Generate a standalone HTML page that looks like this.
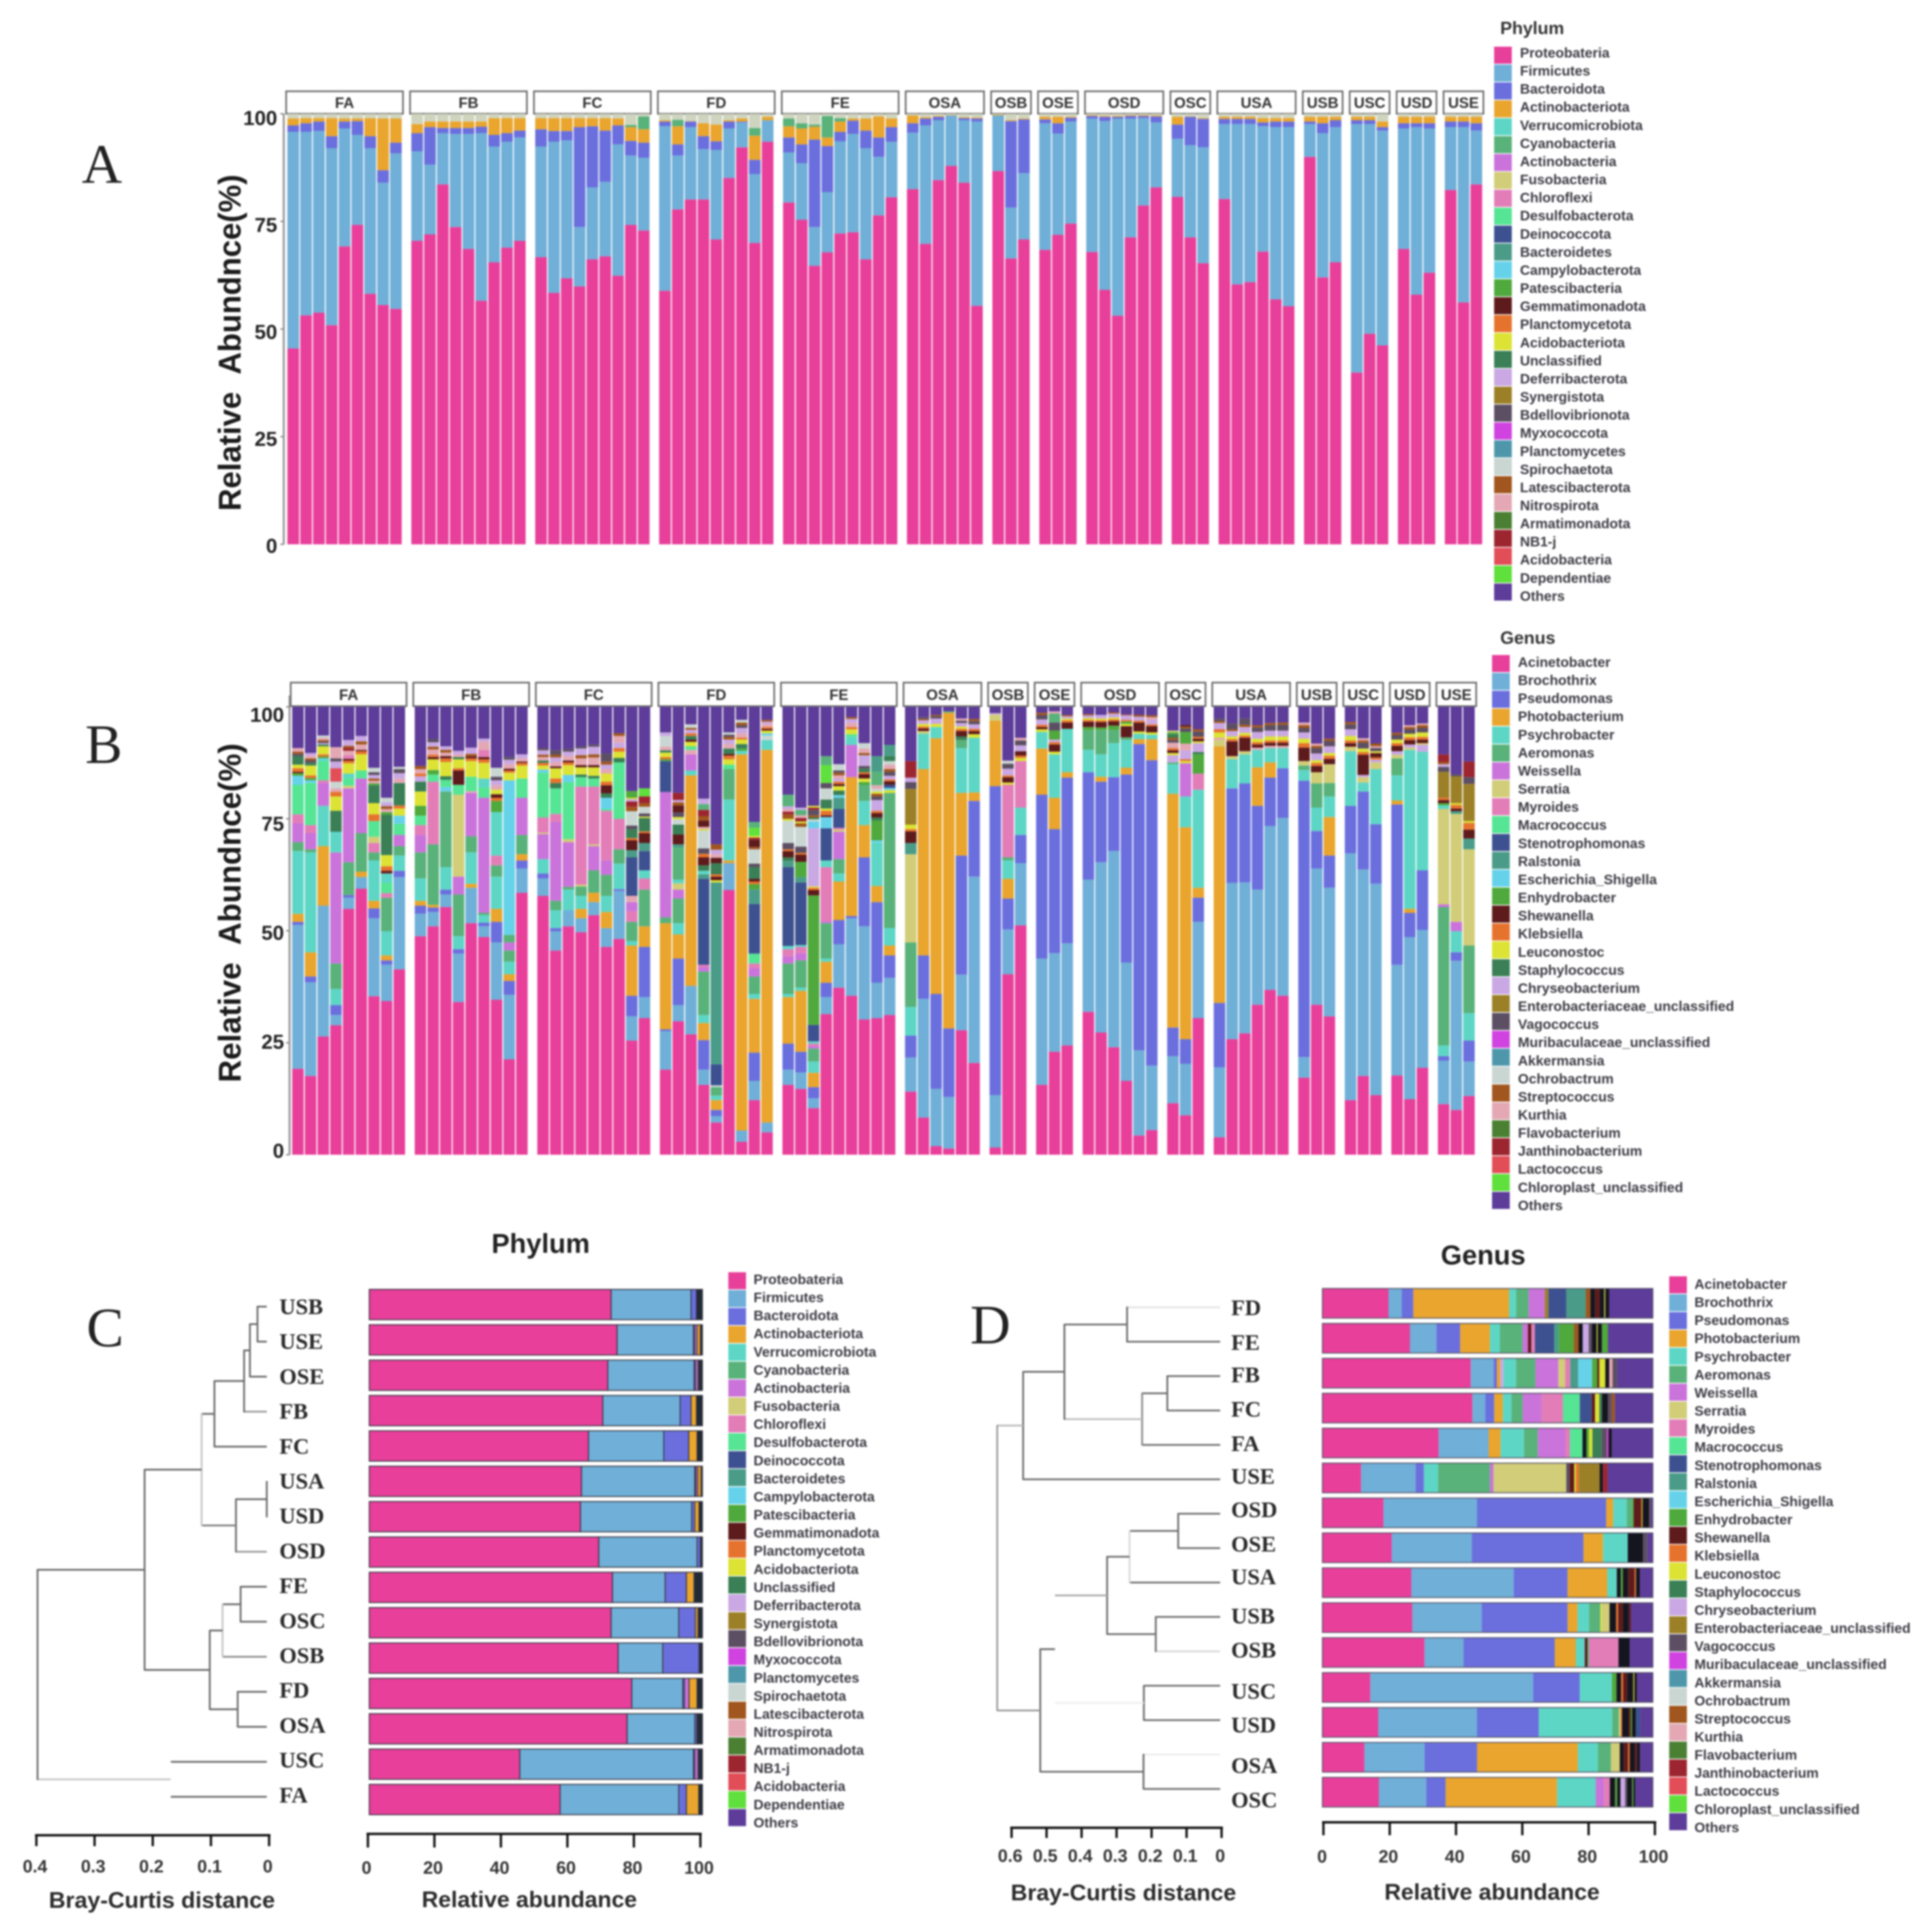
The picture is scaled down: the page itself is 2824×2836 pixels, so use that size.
<!DOCTYPE html>
<html lang="en">
<head>
<meta charset="utf-8">
<title>Microbial community composition: phylum and genus</title>
<style>
html,body{margin:0;padding:0;background:#fff;}
#figure{display:block;width:2824px;height:2836px;filter:blur(1.2px);}
text{font-family:"Liberation Sans",sans-serif;}
</style>
</head>
<body>
<svg id="figure" xmlns="http://www.w3.org/2000/svg" width="2824" height="2836" viewBox="0 0 2824 2836">
<rect x="0" y="0" width="2824" height="2836" fill="#fff"/>
<text x="120" y="268" font-size="82" style="font-family:'Liberation Serif',serif" fill="#222">A</text>
<text x="125" y="1120" font-size="82" style="font-family:'Liberation Serif',serif" fill="#222">B</text>
<text x="127" y="1976" font-size="82" style="font-family:'Liberation Serif',serif" fill="#222">C</text>
<text x="1424" y="1972" font-size="82" style="font-family:'Liberation Serif',serif" fill="#222">D</text>
</svg>
<script>
// ---------- shared categories ----------
const phylumNames = ['Proteobateria','Firmicutes','Bacteroidota','Actinobacteriota','Verrucomicrobiota','Cyanobacteria','Actinobacteria','Fusobacteria','Chloroflexi','Desulfobacterota','Deinococcota','Bacteroidetes','Campylobacterota','Patescibacteria','Gemmatimonadota','Planctomycetota','Acidobacteriota','Unclassified','Deferribacterota','Synergistota','Bdellovibrionota','Myxococcota','Planctomycetes','Spirochaetota','Latescibacterota','Nitrospirota','Armatimonadota','NB1-j','Acidobacteria','Dependentiae','Others'];
const genusNames = ['Acinetobacter','Brochothrix','Pseudomonas','Photobacterium','Psychrobacter','Aeromonas','Weissella','Serratia','Myroides','Macrococcus','Stenotrophomonas','Ralstonia','Escherichia_Shigella','Enhydrobacter','Shewanella','Klebsiella','Leuconostoc','Staphylococcus','Chryseobacterium','Enterobacteriaceae_unclassified','Vagococcus','Muribaculaceae_unclassified','Akkermansia','Ochrobactrum','Streptococcus','Kurthia','Flavobacterium','Janthinobacterium','Lactococcus','Chloroplast_unclassified','Others'];
const palette = ['#E83F9A','#6FAFD8','#6A6FDD','#E9A52D','#5DD6C6','#59B27A','#CA73DA','#D1CD78','#E27DB8','#55E594','#3D5190','#4A9C88','#66D2EA','#4FA93C','#5E1B1B','#E6732D','#DCE334','#3A7F55','#C9A8E3','#9C8028','#5C4F63','#D043E0','#4E97AB','#C9D6D2','#A0561E','#E3A8B3','#4B8033','#9C2530','#E24E58','#5FE03C','#5D3C9A','#15151F'];
const groups = ['FA','FB','FC','FD','FE','OSA','OSB','OSE','OSD','OSC','USA','USB','USC','USD','USE'];
const groupBarCounts = [9,9,9,9,9,6,3,3,6,3,6,3,3,3,3];
const percentTicks = [0,25,50,75,100];

// ---------- panel A: per-sample phylum abundance (%) ----------
const aProteobateria = [45.5,53.2,53.8,50.9,69.2,74.2,58.2,55.6,54.7,70.5,72,83.6,73.7,68.6,56.6,65.5,68.9,70.5,66.7,58.4,61.8,59.9,66.2,66.9,62.4,74.2,72.9,58.9,77.8,80.1,80.1,70.8,85.1,92.2,70,93.5,79.4,75.4,64.7,67.8,72.2,72.5,66.2,76.4,80.6,82.5,69.8,84.6,87.9,84,55.4,86.7,66.4,70.8,68.4,71.9,74.5,67.9,59.1,53.1,71.3,78.7,82.9,80.7,71.3,65.3,80.2,60.4,60.9,68,56.9,55.3,90,62,65.5,39.9,48.9,46.2,68.6,58,63.1,82.3,56.2,83.6];
const aFirmicutes = [50.3,42.6,42.2,41.1,27.4,20.9,33.8,28.4,36.1,20.8,16.2,11.9,21.6,26.7,38.9,26.9,24.6,24,25.7,35.1,32,13.8,16.7,17.3,30.5,16.1,16.9,38.2,12.5,16.8,11.7,20.8,11.5,5.8,16,5,11.6,13.1,9,14,21.4,22.8,25.8,13.6,12.9,13.1,27.5,13.9,11.7,14.5,42.8,12.9,11.8,15.4,29.4,23.5,23.7,31,39.2,45.8,27.6,20.3,15.1,13.5,21.4,26.9,17.4,37.2,36.7,29.1,40,41.6,7.6,33.5,31.4,57.7,48.7,49.9,28,38.9,33.5,14.6,40.7,12.5];
const aBacteroidota = [1.5,2,2.2,2.8,1.6,3.2,2.8,2.9,2.5,4.2,8.7,1.2,1.4,1.4,1.5,2.7,2,1.6,4,2.5,2.2,23.2,14.2,11.9,4.4,3.4,3.5,1.1,2.6,1.3,3,2,1.6,0.2,3.3,0,3.5,4.4,20.3,10.7,2.2,3.1,4.1,4.5,3.4,2.2,1.6,0.8,0,0.5,0.7,0,20.1,12.5,0.9,2.4,0.9,0.6,1,0.4,0.6,0.5,1.4,3.3,6.6,6.6,1.2,1.2,1.2,0.9,1.3,1.3,0.6,2.3,1.6,0.9,0.9,0.8,1.2,0.9,1.2,1.3,1.3,1.7];
const aActinobacteriota = [1.6,1.2,0.8,4.2,0.7,0.6,4.2,12,5.6,2.1,1.3,1.5,1.5,1.5,1.2,3.9,3.5,2.9,2.6,3,3,2.1,1.9,2.9,1.6,3.2,3.1,0.3,4.2,0.1,3,3.9,0.3,0.7,5.6,0.8,2.6,3.7,3,2,2.4,0.5,2.8,4.9,2,1.8,0.3,0.2,0.1,0.2,0.2,0.2,0.2,0.2,0.6,1.5,0.2,0.2,0.2,0.2,0.2,0.2,0.2,1.8,0.1,0.2,0.5,0.5,0.5,1,0.8,0.8,1.1,1.5,0.8,0.8,0.8,1.3,1.5,1.5,1.5,1.1,1.1,1.5];
const aCyanobacteria = [0,0,0,0,0,0,0,0,0,0,0,0,0,0,0,0,0,0,0,0,0,0,0,0,0,0.5,3,0,1.5,0,0,0,0,0,1.8,0,1.8,1.2,0.5,5,0.8,0,0,0,0,0,0,0,0,0,0,0,0,0,0,0,0,0,0,0,0,0,0,0,0,0,0,0,0,0,0,0,0,0,0,0,0,0,0,0,0,0,0,0];

// ---------- panel B: per-sample genus abundance, pairs of [genus index, %] from the bottom up ----------
const genusFA = [
[0,19.2,1,32.1,2,.7,3,1.8,4,14,5,2,6,4.2,8,2,9,6.6,12,2,13,.6,14,.3,15,.8,16,.8,17,1.9,20,.5,24,.5,25,.8],
[0,17.6,1,20.9,2,1.3,3,5.4,4,22.3,5,.7,6,3.6,8,1.8,9,9.4,12,.6,13,.5,15,.6,16,2.2,17,.6,20,.5,24,.5,25,.6,18,.6],
[0,26.4,1,29.2,3,13.3,4,9,6,5.1,8,.6,9,4.4,12,.5,13,.4,15,.5,16,1.8,17,.4,18,.3,20,.3,24,.4,25,.5,23,.5],
[0,28.9,1,2.3,2,2.2,4,3.6,5,5.7,6,24.8,4,4.6,17,4.7,16,3.2,15,1,25,.8,23,1.5,28,3,18,1.5,20,.7,25,2.5],
[0,54.9,1,2.5,2,.6,5,7.3,6,16.5,7,.6,9,1.7,4,1,16,2.3,15,.6,14,.4,8,.8,25,1,27,.6,24,.5,18,1.3],
[0,59.4,1,2.6,3,1.2,5,8.6,6,12.2,9,1.8,16,3.6,15,.7,14,.3,25,1.2,24,.7,18,1.2],
[0,35.4,1,17.4,2,2.2,3,1.7,4,9,5,1.8,8,2.1,7,1.4,9,3.5,15,1.5,16,2.5,17,4,13,.4,25,.6,24,.5,18,.8,20,.6,23,1],
[0,34.3,1,8.1,2,1,3,1.1,4,5.4,5,7.5,8,1,9,2.3,4,2.1,14,.6,15,1,16,2.5,17,9,13,.6,25,.7,24,.6,18,.9,23,1],
[0,41.4,1,20.6,2,1.4,4,3.4,5,2.1,6,2.5,9,2.5,12,1.8,16,1.6,15,.7,17,5,25,1,18,1.2,20,.9,23,.5]];
const genusFB = [
[0,48.8,1,5,2,1.8,3,1.1,4,5,5,5.8,6,3.9,8,2.2,9,2.1,13,2.2,16,3.2,17,2.2,18,1.2,15,.6,25,1,24,.7],
[0,51,1,3.2,2,1,3,.6,5,13.5,8,14,9,1.6,13,1,16,2.4,14,.5,15,.5,25,1.2,24,.6,18,1,20,.7],
[0,55.3,1,2.8,2,1.1,4,5,5,16.9,12,1,9,1.6,17,.8,16,3.2,15,.8,14,.5,25,.8,24,.6,18,.8],
[0,34.1,1,10.8,2,1,4,2.9,5,9.3,6,4,7,18.3,9,2.2,14,3.2,15,.5,16,2,17,.5,25,.6,18,.8],
[0,51.7,1,7.9,3,.9,4,7,5,3.6,6,9.7,25,.4,9,3.2,16,3.5,15,.6,14,.4,24,.6,18,1.4],
[0,48.6,1,2.4,2,.8,4,1.7,5,.5,6,25.7,9,2.3,4,2,16,3.5,15,.8,14,.5,8,1.6,25,1.8,18,.7],
[0,34.6,1,12.8,2,4.6,3,2.9,4,7.2,5,2.5,8,2.2,4,9.7,13,2.5,15,.7,14,.8,16,1,25,1,18,1.1,20,.8,23,2],
[0,21.3,1,14.4,2,3.1,3,1.5,4,2.8,5,2.5,6,1.8,5,1.7,12,34.5,16,1.7,15,.5,14,.4,25,1,18,1,20,.6],
[0,58.5,1,5.4,2,1.8,3,1.4,5,4.3,6,8.3,9,4.3,16,2.9,15,.6,14,.3,25,.7,18,.9]];
const genusFC = [
[0,57.8,1,3.9,2,1.1,4,3.2,6,5.6,7,.3,8,3.4,9,10,12,.7,16,.9,15,.6,17,.5,25,.8,24,.5,18,1,20,.5],
[0,45.6,1,4.3,2,.7,4,4,5,2.1,6,17.6,8,1.8,9,5.7,17,1.2,15,1,16,2.3,14,.4,25,1,18,1,24,.6,20,1],
[0,51,1,3.6,4,4.6,5,.6,6,10,7,.7,9,12.7,12,1.6,16,2.2,15,.6,14,.4,25,1,18,1,20,.6],
[0,49.7,1,3.1,3,2.1,4,2.9,5,2.1,7,.4,8,21.9,9,2.1,17,.6,16,1.6,14,.5,25,1.5,24,.7,18,1.5,20,.5],
[0,53.5,1,2.9,3,2.1,5,5,6,5.4,7,.4,8,12.9,9,1.8,17,.6,16,1.9,14,.5,25,1.7,24,.7,18,1.7,20,.5],
[0,46.4,1,4.2,3,3.6,4,3.6,5,4.7,6,3.2,8,11.1,9,.4,12,2.5,17,1,14,1.8,15,.8,16,1.8,25,1,18,1,24,.7,20,1.8],
[0,48.2,1,10.7,2,.4,4,5.7,5,3.2,8,6.8,9,12.6,17,1,16,1.4,15,.8,18,1.2,25,1.5,24,.6],
[0,25.5,1,5.4,2,4.6,3,11.2,4,1,5,4.3,8,2.4,6,2,25,1.4,10,8.6,11,1.6,14,2.2,15,.5,17,2,20,.8,23,3.2,24,1,27,1.2,18,.5,16,.3,13,1.5],
[0,30.5,1,4.7,2,11.2,3,4.6,5,8.2,8,2.5,4,1.8,10,4.3,11,1.8,14,2.2,15,.4,17,3,16,.3,20,.7,23,1.5,24,.8,27,1.5,29,1.8]];
const genusFD = [
[0,19,1,8.6,2,.4,3,23.7,5,1.3,6,28,10,6.9,13,.4,15,.5,16,1,17,.5,25,.8,23,2.4,18,.8],
[0,29.8,1,3.6,2,10.4,3,5.4,4,2.5,5,5.5,6,2,7,1.4,4,.8,5,7.2,11,.7,14,2.2,17,2.2,23,1.2,16,.5,20,1,14,1.6,24,.7,18,.5,27,1.6],
[0,26.9,1,10.8,3,47,4,1.1,6,3.6,25,1,9,.8,16,1,14,.5,17,.8,15,.6,18,.8,24,.4,23,.8],
[0,15.6,1,3.4,2,6.6,3,3.8,4,1.8,5,9.7,6,1,8,.5,10,19.2,11,1,4,.8,17,1.2,14,1.8,15,.8,20,1.2,23,4,16,.3,25,.5,14,1.4,24,1,27,1.4,5,1.3,18,1.2],
[0,7.2,1,1.4,2,1.4,3,2.2,4,1,5,1.9,23,.4,10,4.7,11,40.6,16,.5,14,.8,15,.5,17,2.5,14,1.2,25,.8,18,1,24,1.2],
[0,59.1,1,6,3,.6,4,13.6,5,6.8,9,1,16,1.2,15,.8,14,.4,17,1.2,25,1,18,1,24,.6,20,.5,23,.5],
[0,2.9,1,2.5,3,84,4,.8,13,.5,17,1,16,1,15,.4,25,1,18,1.2,20,.6,24,.6,23,.6],
[0,12.2,1,4.3,2,6.3,3,12,4,1.1,5,3.9,6,1.8,8,1.1,9,2.2,10,11.1,11,3.2,13,1.2,15,.6,14,.6,17,2.6,20,.8,23,3.2,24,.5,14,1.6,27,.5,16,.4,29,1.8,5,1.3],
[0,5,1,2.2,3,83.2,4,2.2,23,1,12,.5,16,.6,14,.4,15,.4,25,.7,18,.5,24,.4]];
const genusFE = [
[0,15.6,1,3.4,2,5.8,3,10.4,4,.7,5,6.8,6,1.6,8,1.6,4,.7,10,17.6,11,1.4,17,.8,14,1.4,15,.4,20,1.4,23,5,16,.4,24,1,27,.6,25,.6,18,.6,5,2.6],
[0,14.7,1,3.7,2,4.6,3,13.6,4,.7,5,6.1,6,1.6,8,1.4,4,.4,10,14,11,1.2,13,3.4,14,1.6,15,.4,20,1.4,23,4.4,24,.8,16,.4,27,.8,25,.6,5,1.2,18,.5],
[0,10.4,1,2.2,2,2.5,3,3.2,4,2.5,5,2.9,6,.6,8,.5,4,.5,10,3.7,13,28.9,14,1.2,15,.5,16,.3,18,13,12,1.5,23,.5,17,.4,24,.5,20,1.2,27,.5,16,.4],
[0,31.4,1,3.8,2,3.2,3,4.7,4,.7,5,7.9,6,.4,8,12.1,4,1.5,10,7.2,12,2.5,14,.4,15,1,16,.5,17,2,23,2.5,20,1.2,29,4,5,2],
[0,37.3,1,9.7,2,5.4,3,8.6,4,1.8,5,3.2,6,6.1,7,.5,8,.4,10,4.2,11,2.5,12,.6,17,1,16,1,14,.5,15,.5,18,.6,25,.8,24,.6,20,.5,23,1.4],
[0,35.5,1,17.3,2,.5,3,31,6,7.2,4,1.8,9,.6,16,1.1,15,.5,25,1,18,.8,24,.4],
[0,30.2,1,20.8,2,15.4,3,7.2,4,5.4,5,3.6,13,.6,16,.8,14,1,15,.4,17,.8,20,.6,18,2.4,24,.5,25,1,23,1.2],
[0,30.5,1,7.9,2,18,3,3.6,4,9.7,12,.5,13,4.4,17,.7,14,1,15,.5,18,2.4,20,.8,24,.6,16,.5,23,.6,25,.8,5,3,11,3.5],
[0,31.2,1,8.3,2,5,3,2.2,4,3.9,5,30.2,16,.6,12,.5,10,.7,14,.8,15,.4,18,.8,20,.9,24,.6,25,1,23,.8,17,1.1,11,2.5]];
const genusOSA = [
[0,14.1,1,7.6,2,4.9,4,6.4,5,14.4,7,19.7,11,2.5,14,2.6,15,.5,16,1,19,8,20,1.5,18,1,27,3.7],
[0,8.3,1,26.5,2,9.7,3,41.6,4,7.9,7,.6,14,.6,15,.4,16,.6,18,.8,24,.3,20,.4],
[0,1.9,1,12.8,2,21.2,3,57.1,4,2.5,16,.7,18,1.2,20,.5,24,.3],
[0,1.4,1,11.5,2,15.3,3,70.5,5,.3],
[0,27.8,1,12.4,2,26.6,3,14,4,10,5,1.8,17,.8,14,1.2,15,.5,16,.5,18,.8,20,.5,25,.5],
[0,20.5,1,41.6,2,16.9,3,1.9,4,12.2,16,.8,14,.7,15,.5,18,1,20,.7,24,.5]];
const genusOSB = [
[0,1.6,1,11.7,2,69,3,14.6,7,1.4,18,.3],
[0,40.3,1,10,2,6.9,3,4.4,4,4.1,5,.7,8,16.2,16,.5,14,1.2,15,.4,18,1.5,20,1.1,23,.7],
[0,51.2,1,13.9,2,6.3,4,6.1,8,10.4,16,.7,15,.5,14,1,18,1.3,20,1.1,25,.6]];
const genusOSE = [
[0,15.6,1,28.2,2,36.6,3,10.3,4,3.7,16,.6,14,.5,15,.5,18,1.2,20,1,24,.5],
[0,23,1,22,2,27.7,3,7,4,9.7,16,.6,14,1.6,15,.5,18,.6,13,2,20,1.8,5,2,25,.5],
[0,24.4,1,22.8,2,37,3,1.2,4,9.7,14,1.4,15,.5,16,.4,18,.5,24,.3]];
const genusOSD = [
[0,31.9,1,29.5,2,24,4,5,5,4.4,13,.7,14,1.2,15,.4,16,.4,18,.6,24,.3],
[0,27.3,1,38,2,18,3,1.1,4,5,5,5.4,13,.6,14,1.2,15,.4,16,.4,18,.8],
[0,24,1,43.8,2,16.5,4,7.6,5,2.9,13,1,14,1,15,.4,16,.4,18,.9,24,.3],
[0,16.5,1,26.4,2,42,3,1.5,4,6.2,5,.6,14,2.5,16,.5,13,.5,15,.4,18,1,24,.2],
[0,4.3,1,19,2,68.4,3,1.1,4,1.2,16,.5,14,2,15,.4,18,.9,24,.4],
[0,5.5,1,14.4,2,68.2,3,4.7,4,1,16,.5,14,1.4,15,.4,18,1,25,.6,24,.4]];
const genusOSC = [
[0,11.5,1,10.5,2,6.4,3,52.2,4,6.6,5,.4,18,1.6,16,.5,14,.6,15,.5,25,1.2,20,.6,24,.5,17,.8,13,.4,7,.4],
[0,8.8,1,11.5,2,5.5,3,47.3,4,6.9,6,7.4,16,.5,15,.4,18,2,25,1.5,13,2.6,20,.8,24,.4,14,.3],
[0,30.5,1,21.5,2,5.4,3,2.2,4,21.9,8,3.6,13,4.3,17,.5,18,2,16,.4,14,.6,15,.4,20,1.2,24,.5]];
const genusUSA = [
[0,3.9,1,15.6,2,14.4,3,57.3,7,1.4,25,.5,16,1.2,15,.7,18,1.4,24,.4,20,.6],
[0,25.8,1,34.9,2,21.1,4,6.5,7,.7,14,3.3,15,.5,16,.6,18,1.2,24,.4,20,1.3],
[0,27.1,1,33.7,2,22.1,4,6.5,7,.7,14,3,15,.5,16,.6,18,1.3,24,.5,20,1.4],
[0,33.5,1,25.7,2,18.7,3,8.6,4,3.9,25,.5,14,.7,15,.5,16,.8,18,1.5,20,1,24,.5],
[0,36.8,1,36.6,2,10.8,3,3.4,4,3.2,25,.5,14,.7,15,.5,16,.9,18,1.3,20,1.2,24,.5],
[0,35.5,1,39.7,2,11.1,4,4.5,25,.5,14,.7,15,.5,16,.9,18,1.3,20,1.3,24,.5]];
const genusUSB = [
[0,17.2,1,4.6,2,61.7,4,2.4,5,1,7,1,14,3,15,1,16,1,18,1.4,20,1,24,.6,25,.6],
[0,33.5,1,30.4,2,8.4,4,5.2,5,5.4,7,2.5,14,1.4,15,.7,16,.6,18,1.5,20,1.2,24,.5,25,.5],
[0,30.9,1,28.7,2,7.2,3,8.6,4,4.6,5,3,7,4.2,14,1.2,15,.7,16,.6,18,1.5,20,1.2,24,.5]];
const genusUSC = [
[0,12.2,1,55.1,2,10.6,4,12.2,7,1,14,.8,15,.6,16,1,18,1.5,20,1.1,24,.5],
[0,17.6,1,46.1,2,17.4,4,2,7,1.2,18,.5,14,4.5,15,.6,16,.8,20,1.3,24,.5,25,.5],
[0,13.3,1,47.2,2,13.3,4,12.3,7,1.5,18,.6,15,.5,14,1,16,.4,20,.7,25,.4,24,.6]];
const genusUSD = [
[0,17.7,1,24.7,2,35.8,3,.9,4,5.6,5,3.8,7,.8,18,.8,14,1.2,15,.6,16,.8,20,1,24,.5],
[0,12.4,1,36.2,2,5.4,3,.9,4,35.5,7,.5,18,.7,14,1,15,.6,16,.8,20,1,24,.5,25,.4],
[0,19.4,1,30.8,2,13.3,4,26.5,18,1.5,7,.4,14,.8,15,.6,16,1,20,1,24,.6,25,.4]];
const genusUSE = [
[0,11.3,1,9.7,2,1,4,2.4,5,30.9,6,.6,7,21.3,4,.8,13,.5,14,.7,15,.5,19,5.8,20,1.1,18,.6,24,.5,27,1.7],
[0,10,1,33.3,2,1.9,4,4.7,6,2.1,7,24.1,11,.6,14,.6,15,.8,16,.4,19,6,20,.4],
[0,13.1,1,7.7,2,4.7,4,6.1,5,15.1,7,21.5,11,2.4,14,2,15,1.5,16,.4,19,8.3,20,1.5,27,3.5]];
const genusBars = [genusFA,genusFB,genusFC,genusFD,genusFE,genusOSA,genusOSB,genusOSE,genusOSD,genusOSC,genusUSA,genusUSB,genusUSC,genusUSD,genusUSE];

// ---------- panel C: mean phylum abundance by group + Bray-Curtis tree ----------
const cRows = ['USB','USE','OSE','FB','FC','USA','USD','OSD','FE','OSC','OSB','FD','OSA','USC','FA'];
const cProteobateria = [72.6,74.4,71.6,70.1,65.8,63.7,63.4,68.9,73,72.6,74.7,78.8,77.4,45.2,57.3];
const cFirmicutes = [24,22.9,25.9,23.2,22.6,34,33.4,29.5,15.8,20.3,13.4,15.3,20.3,52.1,35.6];
const cBacteroidota = [1.6,.4,.4,3.3,7.5,.3,.9,1,6.4,5,10.9,.5,.6,.4,2.3];
const cActinobacteria = [0,.7,.8,0,0,.6,0,0,0,0,0,1.4,0,1,0];
const cActinobacteriota = [0,1,.3,1.6,2.5,1,1.3,.1,2.3,.8,.2,2.4,.2,.2,3.7];
const cMerges = [[0,1,.02],[15,2,.033],[16,3,.043],[17,4,.094],[5,6,.004],[19,7,.057],[18,20,.116],[8,9,.049],[22,10,.08],[11,12,.054],[23,24,.102],[21,25,.214],[13,14,.169],[26,27,.398]];
const cDistanceTicks = [0,.1,.2,.3,.4];

// ---------- panel D: mean genus abundance by group + Bray-Curtis tree ----------
const dRows = ['FD','FE','FB','FC','FA','USE','OSD','OSE','USA','USB','OSB','USC','USD','OSA','OSC'];
const dFD = [0,20,1,4,2,3.5,3,29,4,2.1,5,3.8,6,4.9,19,1.1,10,5.4,11,5.9,24,1.4,31,1.4,14,1.4,31,1.4,16,.3,31,1.2];
const dFE = [0,26.5,1,8,2,7.2,3,9,4,3,5,6.9,6,1.6,14,1,8,1.1,10,5.8,11,1.5,13,4.5,24,1.4,31,1.3,18,1.8,20,.9,31,1.5,16,.3,31,1.3,13,1.8];
const dFB = [0,44.9,1,6.9,2,1,3,1,18,1,4,3.8,5,5.9,6,6.9,7,2.1,8,1.5,11,2.4,12,4.2,13,1.6,14,.6,16,1.8,31,1.2,25,1,20,1.4];
const dFC = [0,45.4,1,3.9,2,2.7,3,2.6,4,2.6,5,3.4,6,5.7,8,6.5,9,5.1,10,3.6,14,1,16,1.3,17,.8,31,1.8,20,1.2,24,.9];
const dFA = [0,35.2,1,15.1,3,3.6,4,7.1,5,4.2,6,8.3,8,1.4,9,3.8,31,1.2,13,.8,16,1,17,2.8,20,1.6,21,.5,31,1];
const dUSE = [0,11.7,1,16.5,2,2.5,4,4.3,5,15.7,6,1.1,7,22,20,1,14,1.4,16,.5,15,.9,19,6.3,31,1,27,1.4];
const dOSD = [0,18.5,1,28.3,2,39.1,3,2.1,4,4.1,5,1.7,13,.4,14,2.2,24,.3,16,.2,31,2,20,.5];
const dOSE = [0,21,1,24.2,2,33.8,3,5.9,4,7.5,31,4.6,20,1.4];
const dUSA = [0,26.9,1,31,2,16.3,3,12,4,2.9,31,1.2,13,.6,31,1.6,14,2,15,.4,31,1.2];
const dUSB = [0,27.2,1,21,2,26,3,3,4,3.5,5,3.4,16,.4,7,2.4,31,2,15,.6,14,1.4,31,1.8,14,.6];
const dOSB = [0,30.9,1,11.8,2,27.6,3,6.4,4,2.7,14,.8,5,.5,8,8.9,31,3.4];
const dUSC = [0,14.5,1,49.3,2,14.1,4,9.7,13,1.4,31,1.4,15,.6,14,1.2,31,1.9,16,.3,31,.8];
const dUSD = [0,16.9,1,29.9,2,18.7,4,22.2,5,2,7,.6,15,.4,31,2,14,.6,13,.4,31,1.2,10,1.3];
const dOSA = [0,12.7,1,18.2,2,15.9,3,30.5,4,6.1,5,3.9,7,2.7,31,1.2,14,1.3,15,.5,31,1.6,14,.6,31,.9];
const dOSC = [0,17.1,1,14.3,2,5.9,3,33.7,4,11.7,6,2.5,8,1.8,31,1.6,13,.6,31,1,18,1.4,20,.6,31,1.5,13,.4,31,.6];
const dMerges = [[0,1,.27],[2,3,.155],[16,4,.227],[15,17,.449],[18,5,.567],[6,7,.124],[20,8,.263],[9,10,.188],[21,22,.327],[11,12,.222],[23,24,.476],[13,14,.223],[25,26,.518],[19,27,.641]];
const dDistanceTicks = [0,.1,.2,.3,.4,.5,.6];
const abundanceTicks = [0,20,40,60,80,100];

// ---------- drawing ----------
const NS = 'http://www.w3.org/2000/svg';
const svg = document.getElementById('figure');
function mk(tag, attrs, text) {
  const n = document.createElementNS(NS, tag);
  for (const k in attrs) n.setAttribute(k, attrs[k]);
  if (text !== undefined) n.textContent = text;
  svg.appendChild(n);
  return n;
}
const SERIF = "font-family:'Liberation Serif',serif;font-weight:bold";
const barGap = 1.7;

function drawFacets(panel, left, step, pad, gap, stripTop, stripBottom, stripTextY, yScale, barFn) {
  let x = left, idx = 0;
  groups.forEach((g, gi) => {
    const w = groupBarCounts[gi] * step + pad;
    const strip = mk('rect', {x: x, y: stripTop, width: w, height: stripBottom - stripTop, fill: '#fff', stroke: '#6a6a6a', 'stroke-width': 2.4});
    
    
    const label = mk('text', {x: x + w / 2, y: stripTextY, 'font-size': 22, 'font-weight': 'bold', 'text-anchor': 'middle', 'dominant-baseline': 'central', fill: '#333'}, g);
    
    
    for (let i = 0; i < groupBarCounts[gi]; i++) {
      const bx = x + pad / 2 + i * step;
      const segs = barFn(gi, i, idx);
      let acc = 0;
      segs.forEach(s => {
        const r = mk('rect', {x: bx + barGap / 2, y: yScale(acc + s[1]), width: step - barGap, height: yScale(acc) - yScale(acc + s[1]), fill: s[0]});
        
        
        acc += s[1];
      });
      idx++;
    }
    x += w + gap;
  });
}

function drawPercentAxis(panel, title, axisX, yScale, labelRight, labelY, titleX, titleY, titleLen, top, bottom) {
  const line = mk('line', {x1: axisX, x2: axisX, y1: top, y2: bottom, stroke: '#999', 'stroke-width': 3});
  
  
  percentTicks.forEach(t => {
    const tick = mk('line', {x1: axisX - 5, x2: axisX, y1: yScale(t), y2: yScale(t), stroke: '#888', 'stroke-width': 2});
    
    
    const txt = mk('text', {x: labelRight, y: labelY(t), 'font-size': 30, 'font-weight': 'bold', 'text-anchor': 'end', 'dominant-baseline': 'central', fill: '#222'}, String(t));
    
    
  });
  const yt = mk('text', {x: 0, y: 0, 'font-size': 46, 'font-weight': 'bold', 'text-anchor': 'middle', fill: '#1c1c1c', textLength: titleLen, lengthAdjust: 'spacingAndGlyphs', transform: 'translate(' + titleX + ',' + titleY + ') rotate(-90)'}, title);
  
  
}

function drawLegend(panel, title, names, swX, txtX, swFirst, txtFirst, titleX, titleY) {
  if (title) {
    const t = mk('text', {x: titleX, y: titleY, 'font-size': 26, 'font-weight': 'bold', 'dominant-baseline': 'central', fill: '#333'}, title);
    
    
  }
  names.forEach((n, i) => {
    const sw = mk('rect', {x: swX, y: swFirst + i * 26.27 - 12.5, width: 26, height: 25, fill: palette[i]});
    
    
    const tx = mk('text', {x: txtX, y: txtFirst + i * 26.58, 'font-size': 20.4, 'font-weight': 'bold', 'dominant-baseline': 'central', fill: '#3c3c44'}, n);
    
    
  });
}

function drawTree(panel, merges, xScale, leafY, leafCount, verticalShade, linkShade) {
  const pos = {};
  for (let i = 0; i < leafCount; i++) pos[i] = {x: xScale(.004), y: leafY(i)};
  merges.forEach((m, k) => {
    const id = leafCount + k, a = pos[m[0]], b = pos[m[1]], hx = xScale(m[2]);
    pos[id] = {x: hx, y: (a.y + b.y) / 2};
    [m[0], m[1]].forEach(c => {
      const link = mk('line', {x1: pos[c].x, x2: hx, y1: pos[c].y, y2: pos[c].y, stroke: linkShade[c] || '#6a6a6a', 'stroke-width': 2.6});
      
      
    });
    if (verticalShade[id] !== 'none') {
      const v = mk('line', {x1: hx, x2: hx, y1: a.y - 1, y2: b.y + 1, stroke: verticalShade[id] || '#6a6a6a', 'stroke-width': 2.6});
      
      
    }
  });
}

function drawBottomAxis(panel, ticks, xScale, lineY, tickLen, labelY, labelFmt, title, titleX, titleY, titleLen, fontSize) {
  const line = mk('line', {x1: Math.min(...ticks.map(xScale)) - 2, x2: Math.max(...ticks.map(xScale)) + 2, y1: lineY, y2: lineY, stroke: '#111', 'stroke-width': 3.6});
  
  
  ticks.forEach(t => {
    const tk = mk('line', {x1: xScale(t), x2: xScale(t), y1: lineY, y2: lineY + tickLen, stroke: '#111', 'stroke-width': 3.4});
    
    
    const lb = mk('text', {x: xScale(t) - 2, y: labelY, 'font-size': 26, 'font-weight': 'bold', 'text-anchor': 'middle', 'dominant-baseline': 'central', fill: '#333'}, labelFmt(t));
    
    
  });
  const tt = mk('text', {x: titleX, y: titleY, 'font-size': fontSize, 'font-weight': 'bold', 'text-anchor': 'middle', 'dominant-baseline': 'central', fill: '#2b2b2b', textLength: titleLen, lengthAdjust: 'spacingAndGlyphs'}, title);
  
  
}

function drawRow(panel, name, segs, xScale, y, h, edge, edgeW) {
  let acc = 0;
  segs.forEach(s => {
    const r = mk('rect', {x: xScale(acc), y: y, width: xScale(acc + s[1]) - xScale(acc), height: h, fill: s[0], stroke: edge, 'stroke-width': edgeW});
    
    
    acc += s[1];
  });
}

// panel A
const yA = v => 799 - 6.32 * v;
const aRestColour = '#CFD4BF';
drawPercentAxis('panel-a', 'Relative\u00A0\u00A0Abundnce(%)', 416.5, yA, 407, t => 802 - 6.28 * t, 353, 503, 494, 167, 799);
drawFacets('panel-a', 420, 18.83, 2, 10.4, 134, 167, 151, yA, (gi, i, idx) => {
  const vals = [aProteobateria[idx], aFirmicutes[idx], aBacteroidota[idx], aActinobacteriota[idx], aCyanobacteria[idx]];
  const cols = [palette[0], palette[1], palette[2], palette[3], palette[5]];
  const segs = vals.map((v, k) => [cols[k], v]);
  const sum = vals.reduce((a, b) => a + b, 0);
  segs.push([aRestColour, Math.max(0, 100 - sum)]);
  return segs;
});
drawLegend('panel-a', 'Phylum', phylumNames, 2193, 2231, 81, 78.5, 2202, 41);

// panel B
const yB = v => 1695 - 6.574 * v;
drawPercentAxis('panel-b', 'Relative\u00A0\u00A0Abundnce(%)', 425, yB, 417, t => 1690 - 6.4 * t, 353, 1340, 498, 1021, 1695);
drawFacets('panel-b', 426.7, 18.6, 2.6, 9.9, 1002, 1036.6, 1020, yB, (gi, i) => {
  const flat = genusBars[gi][i];
  const segs = [];
  let sum = 0;
  for (let k = 0; k < flat.length; k += 2) {
    segs.push([palette[flat[k]], flat[k + 1]]);
    sum += flat[k + 1];
  }
  segs.push([palette[30], Math.max(0, 100 - sum)]);
  return segs;
});
drawLegend('panel-b', 'Genus', genusNames, 2190, 2228, 974, 973, 2202, 936);

// panel C
const cBarX = v => 542 + 4.89 * v;
const cAxisX = v => 540 + 4.88 * v;
const cTreeX = d => 395 - 854 * d;
const cLeafY = i => 1918 + i * 51.4;
const cDarkTail = '#222A38';
drawTree('panel-c', cMerges, cTreeX, cLeafY, 15, {21: '#c4c4c4', 23: '#c4c4c4', 27: 'none'}, {27: '#c8c8c8', 7: '#999', 3: '#999', 10: '#888', 20: '#777'});
cRows.forEach((name, i) => {
  const lb = mk('text', {x: 410, y: 1919 + i * 51.2, 'font-size': 33, style: SERIF, 'dominant-baseline': 'central', fill: '#2a2a2a'}, name);
  
  
  const vals = [cProteobateria[i], cFirmicutes[i], cBacteroidota[i], cActinobacteria[i], cActinobacteriota[i]];
  const cols = [palette[0], palette[1], palette[2], palette[6], palette[3]];
  const segs = vals.map((v, k) => [cols[k], v]).filter(s => s[1] > 0);
  segs.push([cDarkTail, Math.max(0, 100 - vals.reduce((a, b) => a + b, 0))]);
  drawRow('panel-c', name, segs, cBarX, 1892.7 + i * 51.9, 44.5, '#34343f', 1.4);
});
const cTitle = mk('text', {x: 793.6, y: 1826, 'font-size': 40, 'font-weight': 'bold', 'text-anchor': 'middle', 'dominant-baseline': 'central', fill: '#222'}, 'Phylum');


drawBottomAxis('panel-c-tree', cDistanceTicks, cTreeX, 2694, 16, 2739.6, t => String(t), 'Bray-Curtis distance', 237.6, 2789, 332, 33);
drawBottomAxis('panel-c-bars', abundanceTicks, cAxisX, 2692, 20, 2741.5, t => String(t), 'Relative abundance', 777, 2789, 316, 33.5);
drawLegend('panel-c', null, phylumNames, 1069, 1106, 1880, 1879);

// panel D
const dBarX = v => 1941 + 4.85 * v;
const dAxisX = v => 1942.5 + 4.865 * v;
const dTreeX = d => 1793 - 767 / 1.493 * d;
const dLeafY = i => 1919 + i * 50.5;
const dBars = [dFD,dFE,dFB,dFC,dFA,dUSE,dOSD,dOSE,dUSA,dUSB,dOSB,dUSC,dUSD,dOSA,dOSC];
const dLabelNudge = [1.6,2,-.8,-1,-1,-3.4,-5,-5,-7.5,-.5,-1,9,8,17,17];
drawTree('panel-d', dMerges, dTreeX, dLeafY, 15, {25: 'none', 21: '#d8d8d8', 17: '#888', 28: '#999'}, {0: '#e2e2e2', 10: '#d8d8d8', 13: '#ececec', 23: '#aaa', 24: '#eee', 17: '#bbb', 19: '#bbb', 27: '#999'});
dRows.forEach((name, i) => {
  const lb = mk('text', {x: 1807, y: dLeafY(i) + dLabelNudge[i], 'font-size': 33, style: SERIF, 'dominant-baseline': 'central', fill: '#2a2a2a'}, name);
  
  
  const flat = dBars[i];
  const segs = [];
  let sum = 0;
  for (let k = 0; k < flat.length; k += 2) {
    segs.push([palette[flat[k]], flat[k + 1]]);
    sum += flat[k + 1];
  }
  segs.push([palette[30], Math.max(0, 100 - sum)]);
  drawRow('panel-d', name, segs, dBarX, 1891.4 + i * 51.26, 43.5, 'none', 0);
  const outline = mk('rect', {x: dBarX(0), y: 1891.4 + i * 51.26, width: dBarX(100) - dBarX(0), height: 43.5, fill: 'none', stroke: '#556', 'stroke-width': 1.4});
  
  
});
const dTitle = mk('text', {x: 2177, y: 1843, 'font-size': 40, 'font-weight': 'bold', 'text-anchor': 'middle', 'dominant-baseline': 'central', fill: '#222'}, 'Genus');


drawBottomAxis('panel-d-tree', dDistanceTicks, dTreeX, 2683, 15, 2724, t => String(t), 'Bray-Curtis distance', 1649, 2778, 331, 33);
drawBottomAxis('panel-d-bars', abundanceTicks, dAxisX, 2675, 19, 2725, t => String(t), 'Relative abundance', 2190, 2778, 316, 33.5);
drawLegend('panel-d', null, genusNames, 2450, 2487, 1886, 1886);
</script>
</body>
</html>
